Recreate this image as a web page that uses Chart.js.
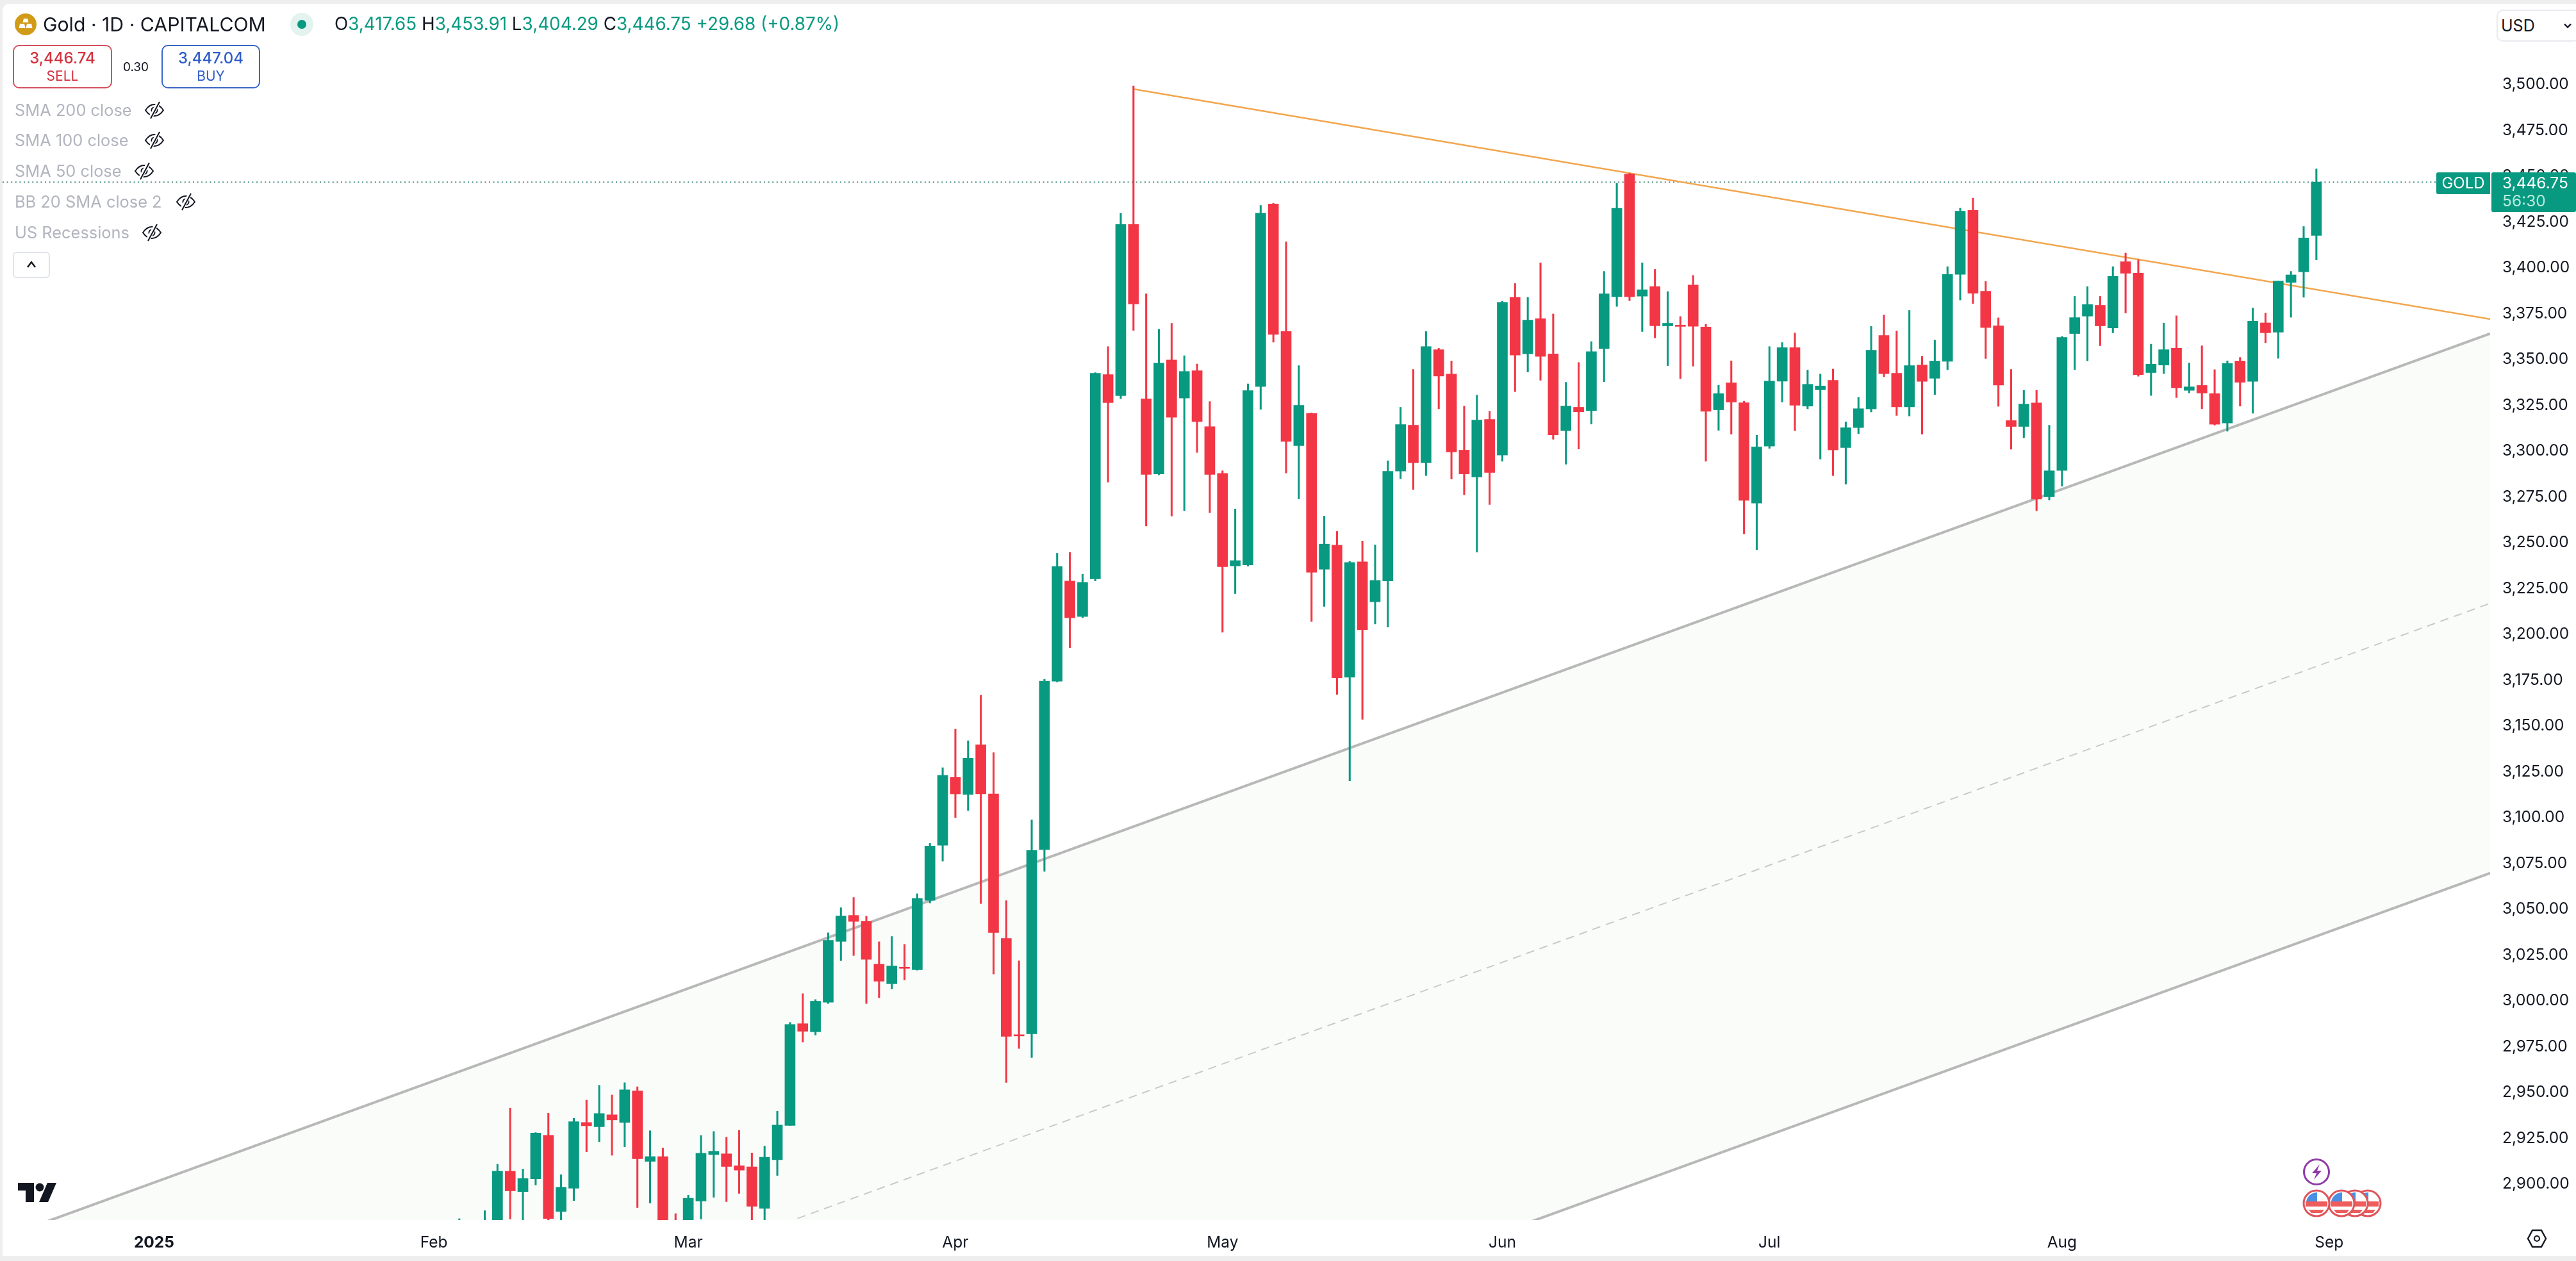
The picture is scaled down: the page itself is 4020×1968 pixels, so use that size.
<!DOCTYPE html>
<html>
<head>
<meta charset="utf-8">
<title>Gold 1D</title>
<script src="https://cdn.jsdelivr.net/npm/chart.js@4"></script>
<style>
  html, body { margin: 0; padding: 0; background: #eeeeee; font-family: Inter, sans-serif; }
  #page { position: absolute; left: 0; top: 0; width: 4020px; height: 1968px; overflow: hidden; }
  #panel { position: absolute; left: 4px; top: 6px; width: 4016px; height: 1954px; background: #fff; border-top-left-radius: 10px; }
  canvas { position: absolute; left: 0; top: 0; }
  .t { position: absolute; white-space: nowrap; line-height: 1; color: #131722; }
  .box { position: absolute; box-sizing: border-box; border-radius: 10px; background: #fff; }
  .ind { color: #b2b5be; font-size: 25.4px; left: 23px; }
  .g { color: #089981; }
  svg.ic { position: absolute; overflow: visible; }
</style>
</head>
<body>
<div id="page">
  <div id="panel"></div>
  <canvas id="goldChart" width="4020" height="1968"></canvas>

  <!-- header -->
  <svg class="ic" style="left:23px;top:21px" width="34" height="34" viewBox="0 0 34 34">
    <circle cx="17" cy="17" r="17" fill="#d19a17"/>
    <path d="M14 8h6l1.5 6h-9zM8 16h7l1.5 7h-10zM19 16h7l1.5 7h-10z" fill="#fff"/>
  </svg>
  <div class="t" style="left:67px;top:23px;font-size:30.2px">Gold · 1D · CAPITALCOM</div>
  <svg class="ic" style="left:453px;top:20px" width="36" height="36" viewBox="0 0 36 36">
    <circle cx="18" cy="18" r="18" fill="#e3f3f0"/><circle cx="18" cy="18" r="7" fill="#089981"/>
  </svg>
  <div class="t" style="left:522px;top:24px;font-size:27.8px">O<span class="g">3,417.65</span> H<span class="g">3,453.91</span> L<span class="g">3,404.29</span> C<span class="g">3,446.75</span> <span class="g">+29.68 (+0.87%)</span></div>

  <!-- sell / buy -->
  <div class="box" style="left:20px;top:70px;width:155px;height:68px;border:2.5px solid #d4505c"></div>
  <div class="t" style="left:20px;width:155px;text-align:center;top:79px;font-size:24px;font-weight:500;color:#d2323f">3,446.74</div>
  <div class="t" style="left:20px;width:155px;text-align:center;top:108px;font-size:21px;color:#d2323f">SELL</div>
  <div class="t" style="left:190px;width:44px;text-align:center;top:95px;font-size:19px">0.30</div>
  <div class="box" style="left:252px;top:70px;width:154px;height:68px;border:2.5px solid #3b66c4"></div>
  <div class="t" style="left:252px;width:154px;text-align:center;top:79px;font-size:24px;font-weight:500;color:#2f5cc9">3,447.04</div>
  <div class="t" style="left:252px;width:154px;text-align:center;top:108px;font-size:21px;color:#2f5cc9">BUY</div>

  <!-- indicators list -->
  <div class="t ind" style="top:159px">SMA 200 close</div>
  <div class="t ind" style="top:206px">SMA 100 close</div>
  <div class="t ind" style="top:254px">SMA 50 close</div>
  <div class="t ind" style="top:302px">BB 20 SMA close 2</div>
  <div class="t ind" style="top:350px">US Recessions</div>
  <svg width="0" height="0" style="position:absolute">
    <symbol id="eyeOff" viewBox="0 0 32 32">
      <path d="M2 16c4-6 9-9 14-9s10 3 14 9c-4 6-9 9-14 9S6 22 2 16z" fill="none" stroke="#131722" stroke-width="2"/>
      <circle cx="16" cy="16" r="4.5" fill="none" stroke="#131722" stroke-width="2"/>
      <path d="M23 3L9 29" stroke="#fff" stroke-width="6"/>
      <path d="M24 3L10 29" stroke="#131722" stroke-width="2"/>
    </symbol>
  </svg>
  <svg class="ic" style="left:225px;top:156px" width="32" height="32"><use href="#eyeOff"/></svg>
  <svg class="ic" style="left:225px;top:203px" width="32" height="32"><use href="#eyeOff"/></svg>
  <svg class="ic" style="left:209px;top:251px" width="32" height="32"><use href="#eyeOff"/></svg>
  <svg class="ic" style="left:274px;top:299px" width="32" height="32"><use href="#eyeOff"/></svg>
  <svg class="ic" style="left:221px;top:347px" width="32" height="32"><use href="#eyeOff"/></svg>
  <div class="box" style="left:20px;top:393px;width:58px;height:41px;border:2px solid #e0e3eb;border-radius:6px"></div>
  <svg class="ic" style="left:41px;top:406px" width="16" height="14" viewBox="0 0 16 14"><path d="M2 11L8 3l6 8" fill="none" stroke="#131722" stroke-width="2.5"/></svg>

  <!-- currency and last price labels -->
  <div class="box" style="left:3896px;top:15px;width:130px;height:50px;border:2px solid #e8eaef"></div>
  <div class="t" style="left:3903px;top:28px;font-size:25px">USD</div>
  <svg class="ic" style="left:4001px;top:36px" width="12" height="9" viewBox="0 0 12 9"><path d="M1 1.5l5 5 5-5" fill="none" stroke="#131722" stroke-width="2.4"/></svg>
  <div class="box" style="left:3802px;top:269px;width:84px;height:34px;background:#089981;border-radius:3px 0 0 3px"></div>
  <div class="t" style="left:3802px;width:84px;text-align:center;top:274px;font-size:24px;color:#fff">GOLD</div>
  <div class="box" style="left:3888px;top:269px;width:132px;height:62px;background:#089981;border-radius:3px"></div>
  <div class="t" style="left:3905px;top:273px;font-size:24.5px;color:#fff">3,446.75</div>
  <div class="t" style="left:3905px;top:301px;font-size:24.5px;color:#b8ebdd">56:30</div>

  <!-- logo -->
  <svg class="ic" style="left:28px;top:1846px" width="60" height="30" viewBox="0 0 60 30">
    <path d="M0 0h25v30H12V12H0z" fill="#131722"/><circle cx="34" cy="7" r="6.5" fill="#131722"/><path d="M46 0h14L47 30H33z" fill="#131722"/>
  </svg>

  <!-- event marks -->
  <svg width="0" height="0" style="position:absolute">
    <symbol id="usFlag" viewBox="0 0 44 44">
      <circle cx="22" cy="22" r="20" fill="#fff" stroke="#e0555a" stroke-width="3"/>
      <path d="M5 19h34v8H5zM10 32h24l-4 5H14z" fill="#ee5c5c"/>
      <path d="M6 19a17 17 0 0 1 17-14v14z" fill="#4a90e2"/>
    </symbol>
  </svg>
  <svg class="ic" style="left:3673px;top:1856px" width="44" height="44"><use href="#usFlag"/></svg>
  <svg class="ic" style="left:3653px;top:1856px" width="44" height="44"><use href="#usFlag"/></svg>
  <svg class="ic" style="left:3632px;top:1856px" width="44" height="44"><use href="#usFlag"/></svg>
  <svg class="ic" style="left:3593px;top:1856px" width="44" height="44"><use href="#usFlag"/></svg>
  <svg class="ic" style="left:3594px;top:1808px" width="42" height="42" viewBox="0 0 42 42">
    <circle cx="21" cy="21" r="19.5" fill="#fff" stroke="#8e3aa8" stroke-width="3"/>
    <path d="M26 9L14 23h7l-4 10 12-14h-7z" fill="#8e3aa8"/>
  </svg>

  <!-- settings -->
  <svg class="ic" style="left:3943px;top:1918px" width="32" height="30" viewBox="0 0 32 30">
    <path d="M9 2h14l7 13-7 13H9L2 15z" fill="none" stroke="#131722" stroke-width="2.4"/><circle cx="16" cy="15" r="4" fill="none" stroke="#131722" stroke-width="2.2"/>
  </svg>
</div>

<script>
// Daily bars, oldest first, the first one sits at barIndex = firstBar
const firstBar = 2;
const opens = [
  2868, 2864, 2866, 2876, 2907, 2895.9, 2902.9, 2926.6, 2885.1, 2897.7,
  2933.6, 2931.3, 2937.8, 2933.7, 2950.8, 2912.4, 2915, 2875, 2870, 2890.7,
  2916.1, 2916.5, 2910, 2909.4, 2886.7, 2913.3, 2932, 2987.5, 2983.1, 2999.2,
  3032.4, 3046.6, 3043.5, 3020, 3009.3, 3018.2, 3017, 3054.8, 3084.9, 3121.9,
  3112.6, 3139.7, 3112.9, 3034, 2981.5, 2982, 3082.5, 3174.4, 3229, 3209.7,
  3230.2, 3341.7, 3330.2, 3423.6, 3328.4, 3287.5, 3349.7, 3328.9, 3343.8, 3313.3,
  3287.8, 3237.3, 3237.8, 3335.2, 3434.8, 3365.2, 3303, 3320.5, 3235.5, 3248.6,
  3176.6, 3239.5, 3217.7, 3229.1, 3289.1, 3314.1, 3293.6, 3355.3, 3342, 3300.5,
  3285.8, 3317.2, 3297.8, 3383.8, 3353, 3372.2, 3353, 3311.1, 3323.9, 3322,
  3355.8, 3384.2, 3451.1, 3384.5, 3389.7, 3368.3, 3368.6, 3390.6, 3367.7, 3322.5,
  3337.2, 3326.3, 3271.6, 3302.7, 3338.1, 3356.4, 3324.5, 3333.4, 3338.6, 3301.9,
  3312.8, 3323, 3363, 3342.4, 3324.1, 3346.9, 3339.7, 3348.9, 3396.4, 3431.3,
  3387.2, 3368.3, 3316.6, 3313.4, 3326.2, 3275, 3289.4, 3364.1, 3373.6, 3379.5,
  3367.2, 3403.3, 3397, 3342.8, 3346.9, 3356.1, 3333.1, 3335.8, 3331.3, 3315.3,
  3349.1, 3338, 3369.9, 3364.8, 3392, 3397.8, 3417.65
];
const highs = [
  2881.1, 2878, 2885.5, 2910.8, 2941.5, 2908.2, 2928.1, 2938.7, 2905.1, 2935.9,
  2945.8, 2953.9, 2948.6, 2955.3, 2953.1, 2929.1, 2919.6, 2883.9, 2893.9, 2926.5,
  2928.7, 2925.6, 2929.3, 2917, 2920.7, 2939.7, 2988.2, 3003.9, 3000.7, 3037.1,
  3050.8, 3056.4, 3046.2, 3032.2, 3035.1, 3030.8, 3058.4, 3085.9, 3127.2, 3148.2,
  3141.9, 3166.7, 3135.4, 3054.7, 3021.8, 3098.7, 3175.5, 3244.2, 3244.7, 3232.8,
  3342.8, 3357, 3429.8, 3499.2, 3385.8, 3366.4, 3369.7, 3352, 3347.5, 3327,
  3289.2, 3268.4, 3336.6, 3434, 3435.2, 3414.2, 3346.6, 3320.8, 3264.5, 3256.1,
  3239.8, 3250.9, 3248.8, 3294.7, 3323.9, 3344.5, 3365.2, 3356.1, 3349.1, 3324.5,
  3330.5, 3321.7, 3381.7, 3391.4, 3383.8, 3402.7, 3374.8, 3337.5, 3348.3, 3359.7,
  3398, 3446.1, 3451.6, 3402.7, 3399.1, 3387, 3373.4, 3395.8, 3369.2, 3335.9,
  3349.2, 3327.2, 3308.6, 3357, 3359.2, 3364.4, 3344.2, 3342, 3344.7, 3315.9,
  3329.2, 3368, 3374.2, 3365.5, 3376.7, 3351.6, 3360.5, 3400.6, 3432.5, 3438,
  3392.5, 3372.7, 3344.5, 3333.1, 3333.1, 3314.1, 3362.5, 3384.4, 3389.7, 3384.4,
  3400.6, 3408, 3404.4, 3358.3, 3369.8, 3373.8, 3348, 3357.4, 3344.4, 3349.2,
  3351.1, 3378, 3375.3, 3392.8, 3398, 3422.5, 3453.91
];
const lows = [
  2862, 2855, 2860, 2870, 2880.9, 2875, 2899.5, 2878, 2875, 2891,
  2917.6, 2923.1, 2915.7, 2920.4, 2887.2, 2889.6, 2860, 2860, 2865, 2880.9,
  2892.8, 2890.4, 2894.9, 2878, 2878, 2904.7, 2932, 2977.5, 2981.3, 2998.5,
  3021.9, 3024.7, 2998.5, 3001.6, 3006.5, 3011.4, 3016.7, 3053.4, 3076.2, 3099.9,
  3103.8, 3053.1, 3014.6, 2955.4, 2974, 2969.1, 3070.6, 3174, 3192.7, 3209,
  3229.1, 3283, 3328.6, 3365.8, 3259.1, 3287, 3264.5, 3267.4, 3299.2, 3266.3,
  3201.1, 3222.2, 3237.2, 3322.7, 3359.4, 3288, 3273.9, 3207, 3215.2, 3167.2,
  3120, 3153.6, 3205.6, 3203.9, 3284.9, 3278.9, 3286.6, 3323, 3284.7, 3276.1,
  3244.8, 3270.8, 3294.4, 3332.4, 3343.1, 3338.6, 3306.4, 3292.8, 3301.1, 3314.7,
  3337.8, 3378.9, 3382, 3365.2, 3361.7, 3346.6, 3339.5, 3346.3, 3294.4, 3311.3,
  3309.2, 3254.8, 3246.1, 3301.4, 3326.7, 3311.1, 3323, 3295.6, 3286.6, 3281.9,
  3309.4, 3321.3, 3340.5, 3319.4, 3319.1, 3309.2, 3330.8, 3344.4, 3382.4, 3380.5,
  3350.5, 3324.4, 3301, 3307.2, 3267.4, 3273.3, 3280.8, 3344.4, 3349.2, 3357.5,
  3364.5, 3375.3, 3340.8, 3330.3, 3342.2, 3329.2, 3331.7, 3323, 3314.1, 3310.8,
  3324.5, 3320.6, 3359.1, 3350.6, 3373, 3383.9, 3404.29
];
const closes = [
  2877, 2869, 2877, 2907, 2896.3, 2903, 2927.8, 2881.2, 2898.2, 2934,
  2931.8, 2938.5, 2935, 2951.4, 2913.8, 2915, 2870, 2868, 2892.3, 2916.8,
  2917.9, 2909.6, 2907.6, 2887.9, 2914.6, 2932.2, 2987.1, 2983.4, 2999.8, 3033,
  3046.3, 3043.3, 3022.6, 3010.7, 3019, 3017.7, 3055.8, 3084.5, 3122.9, 3112.9,
  3132.4, 3112.9, 3037.2, 2980.6, 2980.8, 3082, 3174.4, 3237, 3209, 3228.3,
  3342.4, 3326.4, 3423.6, 3380.2, 3287.2, 3348, 3318.4, 3343.4, 3316.1, 3287.2,
  3236.9, 3240.2, 3333, 3429.8, 3363.6, 3305.2, 3324.9, 3233.8, 3249.2, 3176.3,
  3239.2, 3202.5, 3229.4, 3288.9, 3314.4, 3293.6, 3357, 3340.9, 3299.5, 3287.5,
  3316.9, 3288.3, 3381.1, 3352.3, 3371.4, 3351.6, 3308.8, 3324.5, 3321.4, 3354.2,
  3385.8, 3432.4, 3384.2, 3388, 3368.3, 3369.7, 3368, 3368.1, 3321.7, 3331.3,
  3326.7, 3273.1, 3302.2, 3338.1, 3356.4, 3325, 3336.4, 3335.5, 3300.6, 3312.7,
  3323.1, 3355, 3342.2, 3324.1, 3346.6, 3338, 3349.1, 3396.3, 3430.9, 3386.1,
  3367.4, 3336, 3313.4, 3325.6, 3273.8, 3289.2, 3362, 3372.8, 3379.9, 3368.3,
  3395.3, 3397, 3341.7, 3347.4, 3355.3, 3334.4, 3335, 3331.6, 3314.6, 3347.7,
  3337.5, 3370.8, 3364.5, 3392.8, 3396.1, 3416.3, 3446.75
];

// Axis ticks
const monthLabels = ["2025", "Feb", "Mar", "Apr", "May", "Jun", "Jul", "Aug", "Sep"];
const monthBars = [-22, 0, 20, 41, 62, 84, 105, 128, 149];
const priceTicks = [
  2900, 2925, 2950, 2975, 3000, 3025, 3050, 3075, 3100, 3125, 3150, 3175, 3200,
  3225, 3250, 3275, 3300, 3325, 3350, 3375, 3400, 3425, 3450, 3475, 3500
];
const lastPrice = 3446.75;

// Visible window
const barMin = -33.91;
const barMax = 161.66;
const priceMin = 2880.4;
const priceMax = 3544;

// Drawings: [bar, price] at both ends
const channelUpper = [[barMin, 2870.8], [barMax, 3364.1]];
const channelMiddle = [[barMin, 2723.6], [barMax, 3216.9]];
const channelLower = [[barMin, 2576.4], [barMax, 3069.7]];
const resistance = [[55, 3497.5], [barMax, 3372]];

const UP = "#089981";
const DOWN = "#F23645";
const toXY = (pts) => pts.map((p) => ({ x: p[0], y: p[1] }));
const barColor = (ctx) => (closes[ctx.dataIndex] >= opens[ctx.dataIndex] ? UP : DOWN);
const flatLine = { type: "line", pointRadius: 0, tension: 0 };

new Chart(document.getElementById("goldChart").getContext("2d"), {
  type: "bar",
  data: {
    datasets: [
      {
        ...flatLine,
        data: toXY(channelUpper),
        borderColor: "#b8b8b8",
        borderWidth: 4,
        fill: { target: 1, above: "#fafcfa", below: "#fafcfa" },
        order: 9,
      },
      { ...flatLine, data: toXY(channelLower), borderColor: "#b8b8b8", borderWidth: 4, order: 8 },
      {
        ...flatLine,
        data: toXY(channelMiddle),
        borderColor: "#cacaca",
        borderWidth: 2,
        borderDash: [13, 9],
        order: 7,
      },
      {
        ...flatLine,
        data: [{ x: barMin, y: lastPrice }, { x: barMax, y: lastPrice }],
        borderColor: "#4d8f84",
        borderWidth: 2,
        borderDash: [2, 4.6],
        order: 6,
      },
      { ...flatLine, data: toXY(resistance), borderColor: "#f2a64f", borderWidth: 2.5, order: 5 },
      {
        label: "Wicks",
        data: lows.map((l, i) => ({ x: firstBar + i, y: [l, highs[i]] })),
        backgroundColor: barColor,
        barThickness: 2.4,
        grouped: false,
        order: 2,
      },
      {
        label: "Bodies",
        data: opens.map((o, i) => ({ x: firstBar + i, y: [o, closes[i]] })),
        backgroundColor: barColor,
        barThickness: 16,
        minBarLength: 2,
        grouped: false,
        order: 1,
      },
    ],
  },
  options: {
    responsive: false,
    animation: false,
    devicePixelRatio: 1,
    layout: { autoPadding: false, padding: { left: 4, top: 6, right: 0, bottom: 8 } },
    plugins: { legend: { display: false }, tooltip: { enabled: false } },
    scales: {
      x: {
        type: "linear",
        min: barMin,
        max: barMax,
        bounds: "data",
        offset: false,
        grid: { display: false, drawTicks: false },
        border: { display: false },
        afterBuildTicks: (scale) => {
          scale.ticks = monthBars.map((b) => ({ value: b }));
        },
        afterFit: (scale) => {
          scale.height = 56;
          scale.paddingLeft = 0;
          scale.paddingRight = 0;
        },
        ticks: {
          autoSkip: false,
          maxRotation: 0,
          padding: 21,
          color: "#131722",
          font: (ctx) => ({ family: "Inter", size: 24.5, weight: ctx.index === 0 ? "bold" : "normal" }),
          callback: (v) => monthLabels[monthBars.indexOf(v)],
        },
      },
      y: {
        position: "right",
        min: priceMin,
        max: priceMax,
        bounds: "data",
        grid: { display: false, drawTicks: false },
        border: { display: false },
        afterBuildTicks: (scale) => {
          scale.ticks = priceTicks.map((p) => ({ value: p }));
        },
        afterFit: (scale) => {
          scale.width = 134;
          scale.paddingTop = 0;
          scale.paddingBottom = 0;
        },
        ticks: {
          autoSkip: false,
          padding: 19,
          color: "#131722",
          font: { family: "Inter", size: 24.5 },
          callback: (v) => v.toLocaleString("en-US", { minimumFractionDigits: 2, maximumFractionDigits: 2 }),
        },
      },
    },
  },
});
</script>
</body>
</html>
